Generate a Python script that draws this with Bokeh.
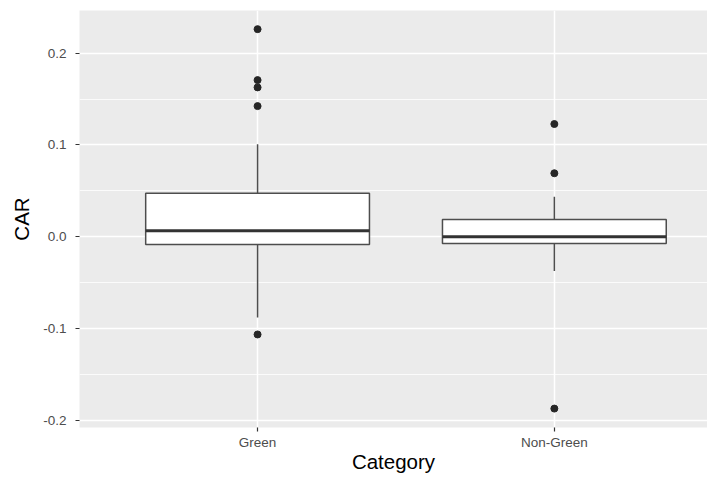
from bokeh.plotting import figure
from bokeh.models import FixedTicker, NumeralTickFormatter, Range1d, ColumnDataSource
from bokeh.embed import file_html
from bokeh.resources import INLINE

# ---- data ----
categories = ["Green", "Non-Green"]
q1 = [-0.0083, -0.0072]
median = [0.0065, 0.0]
q3 = [0.0473, 0.0189]
whisker_low = [-0.0878, -0.0373]
whisker_high = [0.1008, 0.0435]
outliers_green = [0.2261, 0.1706, 0.1627, 0.1423, -0.1063]
outliers_nongreen = [0.1228, 0.0692, -0.187]
y_ticks = [-0.2, -0.1, 0.0, 0.1, 0.2]
y_minor = [-0.15, -0.05, 0.05, 0.15]

xpos = list(range(1, len(categories) + 1))
box_width = 0.754

FONT = "Liberation Sans"

p = figure(width=707, height=475, output_backend="svg", toolbar_location=None,
           x_range=Range1d(0.4, 2.516), y_range=Range1d(-0.2076, 0.2464),
           min_border_left=79, min_border_right=0, min_border_top=10, min_border_bottom=48)

p.background_fill_color = "#EBEBEB"
p.border_fill_color = "white"
p.outline_line_color = None

# grids
p.xgrid.ticker = FixedTicker(ticks=xpos)
p.xgrid.grid_line_color = "white"
p.xgrid.grid_line_width = 1.5
p.ygrid.ticker = FixedTicker(ticks=y_ticks, minor_ticks=y_minor)
p.ygrid.grid_line_color = "white"
p.ygrid.grid_line_width = 1.6
p.ygrid.minor_grid_line_color = "white"
p.ygrid.minor_grid_line_width = 0.8

# axes
p.xaxis.ticker = FixedTicker(ticks=xpos)
p.xaxis.major_label_overrides = {x: c for x, c in zip(xpos, categories)}
p.yaxis.ticker = FixedTicker(ticks=y_ticks, minor_ticks=[])
p.yaxis.formatter = NumeralTickFormatter(format="0.0")
for ax in (p.xaxis[0], p.yaxis[0]):
    ax.axis_line_color = None
    ax.major_tick_line_color = "#333333"
    ax.major_tick_line_width = 1.2
    ax.major_tick_in = 0
    ax.major_tick_out = 4
    ax.minor_tick_line_color = None
    ax.major_label_text_font = FONT
    ax.major_label_text_font_size = "13.5px"
    ax.major_label_text_color = "#4D4D4D"
    ax.axis_label_text_font = FONT
    ax.axis_label_text_font_size = "20.5px"
    ax.axis_label_text_font_style = "normal"
    ax.axis_label_text_color = "black"
p.xaxis.axis_label = "Category"
p.yaxis.axis_label = "CAR"
p.xaxis.major_label_standoff = 3
p.xaxis.axis_label_standoff = -3
p.yaxis.major_label_standoff = 9
p.yaxis.axis_label_standoff = 7

src = ColumnDataSource(dict(x=xpos, q1=q1, med=median, q3=q3, lo=whisker_low, hi=whisker_high,
                            left=[x - box_width / 2 for x in xpos],
                            right=[x + box_width / 2 for x in xpos]))

# whiskers
p.segment(x0="x", y0="q3", x1="x", y1="hi", source=src, line_color="#4D4D4D", line_width=1.5)
p.segment(x0="x", y0="lo", x1="x", y1="q1", source=src, line_color="#4D4D4D", line_width=1.5)
# boxes
p.vbar(x="x", width=box_width, bottom="q1", top="q3", source=src,
       fill_color="white", line_color="#4D4D4D", line_width=1.5)
# medians
p.segment(x0="left", y0="med", x1="right", y1="med", source=src,
          line_color="#333333", line_width=3)

# outliers
ox = [xpos[0]] * len(outliers_green) + [xpos[1]] * len(outliers_nongreen)
oy = outliers_green + outliers_nongreen
p.scatter(ox, oy, size=7, fill_color="#262626", line_color="#262626")

open("out.html", "w").write(file_html(p, INLINE))
